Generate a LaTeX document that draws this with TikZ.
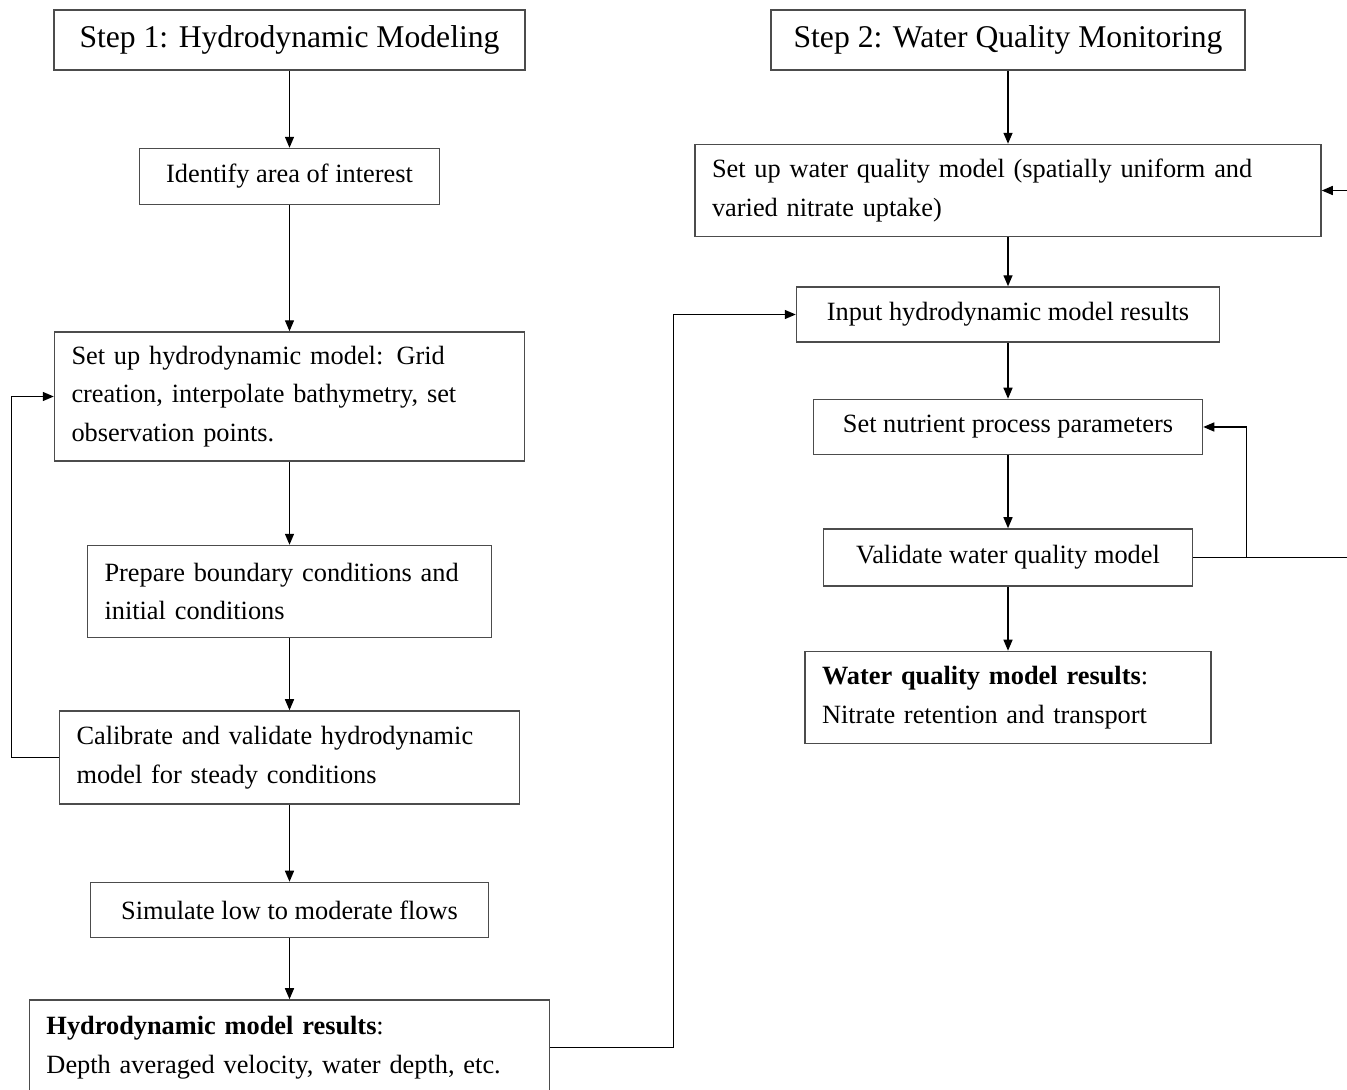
\documentclass[tikz,border=0pt]{standalone}
\usepackage{fontspec}
\setmainfont{Liberation Serif}
\usetikzlibrary{positioning,arrows.meta}

\begin{document}
\begin{tikzpicture}[
            >={Triangle[length=2.2mm,width=1.8mm]},
            stepnode/.style={rectangle, draw=black!70, line width=0.85pt, minimum height=1.2cm, font=\fontsize{18}{22}\selectfont},
            boxnode/.style={rectangle, draw=black!70, line width=0.85pt, inner xsep=0.34cm, align=left, font=\fontsize{15}{22}\selectfont},
            link/.style={->, line width=0.8pt},
        ]
        \useasboundingbox (0,0) rectangle (26.94,-21.78);
        \node[stepnode, minimum width=9.42cm]                   (stepOne)    at (5.79,-0.8)             {Step 1: Hydrodynamic Modeling};
        \node[boxnode, minimum width=6cm, minimum height=1.12cm]   (area)       [below = 1.54 of stepOne]  {Identify area of interest};
        \node[boxnode, text width=8.72cm, minimum height=2.58cm]   (hydroSetup) [below = 2.52 of area]     {Set up hydrodynamic model: Grid\\creation, interpolate bathymetry, set\\observation points.};
        \node[boxnode, text width=7.40cm, minimum height=1.84cm]   (prepBC)     [below = 1.66 of hydroSetup] {Prepare boundary conditions and\\initial conditions};
        \node[boxnode, text width=8.52cm, minimum height=1.86cm]   (calib)      [below = 1.44 of prepBC]   {Calibrate and validate hydrodynamic\\model for steady conditions};
        \node[boxnode, minimum width=7.96cm, minimum height=1.1cm] (simFlow)    [below = 1.54 of calib]    {Simulate low to moderate flows};
        \node[boxnode, text width=9.72cm, minimum height=1.9cm]    (hydroRes)   [below = 1.22 of simFlow]  {\textbf{Hydrodynamic model results}:\\Depth averaged velocity, water depth, etc.};
        \node[stepnode, minimum width=9.48cm]                   (stepTwo)    at (20.16,-0.8)            {Step 2: Water Quality Monitoring};
        \node[boxnode, text width=11.84cm, minimum height=1.84cm]  (wqSetup)    [below = 1.46 of stepTwo]  {Set up water quality model (spatially uniform and\\varied nitrate uptake)};
        \node[boxnode, minimum width=8.46cm, minimum height=1.1cm] (inputRes)   [below = 0.98 of wqSetup]  {Input hydrodynamic model results};
        \node[boxnode, minimum width=7.78cm, minimum height=1.1cm] (nutrient)   [below = 1.12 of inputRes] {Set nutrient process parameters};
        \node[boxnode, minimum width=7.38cm, minimum height=1.14cm] (validate)  [below = 1.46 of nutrient] {Validate water quality model};
        \node[boxnode, text width=7.44cm, minimum height=1.84cm]   (wqRes)      [below = 1.28 of validate] {\textbf{Water quality model results}:\\Nitrate retention and transport};
        \draw[link] (stepOne.south) -- (area.north);
        \draw[link] (area.south) -- (hydroSetup.north);
        \draw[link] (hydroSetup.south) -- (prepBC.north);
        \draw[link] (prepBC.south) -- (calib.north);
        \draw[link] (calib.south) -- (simFlow.north);
        \draw[link] (simFlow.south) -- (hydroRes.north);
        \draw[link] (calib.west) -- ++(-0.94,0) |- (hydroSetup.west);
        \draw[link] (hydroRes.east) -- ++(2.46,0) |- (inputRes.west);
        \draw[link] (stepTwo.south) -- (wqSetup.north);
        \draw[link] (wqSetup.south) -- (inputRes.north);
        \draw[link] (inputRes.south) -- (nutrient.north);
        \draw[link] (nutrient.south) -- (validate.north);
        \draw[link] (validate.south) -- (wqRes.north);
        \draw[link] (validate.east) -- ++(1.06,0) |- (nutrient.east);
        \draw[link] (validate.east) -- ++(3.4,0) |- (wqSetup.east);
    \end{tikzpicture}
\end{document}
